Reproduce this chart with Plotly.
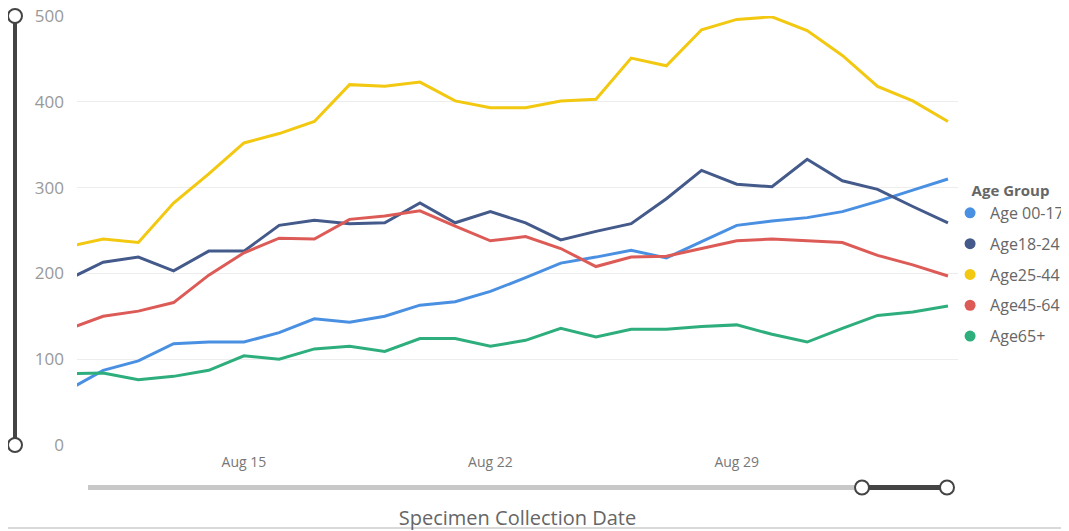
import plotly.graph_objects as go
import pandas as pd

dates = pd.date_range("2020-08-10", "2020-09-04", freq="D")

age_00_17 = [64, 87, 98, 118, 120, 120, 131, 147, 143, 150, 163, 167, 179, 195, 212, 219, 227, 218, 237, 256, 261, 265, 272, 284, 297, 310]
age_18_24 = [193, 213, 219, 203, 226, 226, 256, 262, 258, 259, 282, 259, 272, 259, 239, 249, 258, 287, 320, 304, 301, 333, 308, 298, 278, 259]
age_25_44 = [231, 240, 236, 282, 316, 352, 363, 377, 420, 418, 423, 401, 393, 393, 401, 403, 451, 442, 484, 496, 499, 483, 454, 418, 401, 377]
age_45_64 = [135, 150, 156, 166, 198, 224, 241, 240, 263, 267, 273, 255, 238, 243, 229, 208, 219, 220, 229, 238, 240, 238, 236, 221, 210, 197]
age_65p = [83, 84, 76, 80, 87, 104, 100, 112, 115, 109, 124, 124, 115, 122, 136, 126, 135, 135, 138, 140, 129, 120, 136, 151, 155, 162]

names = ["Age 00-17", "Age18-24", "Age25-44", "Age45-64", "Age65+"]
series = [age_00_17, age_18_24, age_25_44, age_45_64, age_65p]
colors = ["#4A90E2", "#445A8B", "#F2C811", "#DD5B57", "#2EAE7D"]

y_ticks = [0, 100, 200, 300, 400, 500]

fig = go.Figure()
for i, (n, s, c) in enumerate(zip(names, series, colors)):
    fig.add_trace(go.Scatter(x=dates, y=s, mode="lines", name=n,
                             line=dict(color=c, width=3), showlegend=False,
                             hovertemplate="%{y}<extra>" + n + "</extra>"))
for i, (n, c) in enumerate(zip(names, colors)):
    fig.add_trace(go.Scatter(x=[None], y=[None], mode="markers", name=n,
                             marker=dict(color=c, size=11), legendgroup=f"g{i}",
                             showlegend=True))

FONT = "Segoe UI, Open Sans, sans-serif"

# page has an 8px body margin: figure pixel = page pixel - 8
fig.update_layout(
    width=1061, height=523,
    margin=dict(l=69, r=111, t=8, b=86, autoexpand=False),
    paper_bgcolor="white", plot_bgcolor="white",
    font=dict(family=FONT, color="#777777"),
    legend=dict(
        title=dict(text="&nbsp;&nbsp;&nbsp;&nbsp;&nbsp;<b>Age Group</b>", font=dict(size=15, color="#666666")),
        font=dict(size=16, color="#666666"),
        x=0.991, xanchor="left", y=0.626, yanchor="top",
        tracegroupgap=7, itemwidth=30,
        bgcolor="rgba(0,0,0,0)",
    ),
    xaxis=dict(
        range=[pd.Timestamp("2020-08-10 06:10"), pd.Timestamp("2020-09-04 06:50")],
        tickvals=[pd.Timestamp("2020-08-15"), pd.Timestamp("2020-08-22"), pd.Timestamp("2020-08-29")],
        ticktext=["Aug 15", "Aug 22", "Aug 29"],
        tickfont=dict(size=14, color="#777777"),
        showgrid=False, zeroline=False, showline=False,
        ticks="", ticklabelstandoff=7,
        title=dict(text="Specimen Collection Date", font=dict(size=20, color="#666666"), standoff=40),
    ),
    yaxis=dict(
        range=[0, 500], tickvals=y_ticks,
        tickfont=dict(size=17, color="#999999"),
        showgrid=True, gridcolor="#EDEDED", gridwidth=1,
        zeroline=False, showline=False, ticks="",
        ticklabelstandoff=12, ticklabeloverflow="allow",
    ),
)

# helpers: page pixel -> paper coords (plot area on page spans x 77..958, y 16..445)
def px(x):
    return (x - 77) / 881
def py(y):
    return (445 - y) / 429

shapes = []
shapes.append(dict(type="line", xref="paper", yref="paper",
                   x0=px(15), x1=px(15), y0=py(445), y1=py(16),
                   line=dict(color="#444444", width=4), layer="above"))
shapes.append(dict(type="line", xref="paper", yref="paper",
                   x0=px(88), x1=px(862), y0=py(487.5), y1=py(487.5),
                   line=dict(color="#C8C8C8", width=5)))
shapes.append(dict(type="line", xref="paper", yref="paper",
                   x0=px(862), x1=px(947), y0=py(487.5), y1=py(487.5),
                   line=dict(color="#444444", width=5)))
for (cx, cy) in [(15, 16), (15, 445), (862, 487.5), (947, 487.5)]:
    shapes.append(dict(type="circle", xref="paper", yref="paper",
                       x0=px(cx - 7), x1=px(cx + 7), y0=py(cy + 7), y1=py(cy - 7),
                       fillcolor="white", line=dict(color="#444444", width=2), layer="above"))
shapes.append(dict(type="line", xref="paper", yref="paper",
                   x0=px(8), x1=px(1069), y0=py(528), y1=py(528),
                   line=dict(color="#CCCCCC", width=1.5)))
fig.update_layout(shapes=shapes)

fig.write_html("out.html")
